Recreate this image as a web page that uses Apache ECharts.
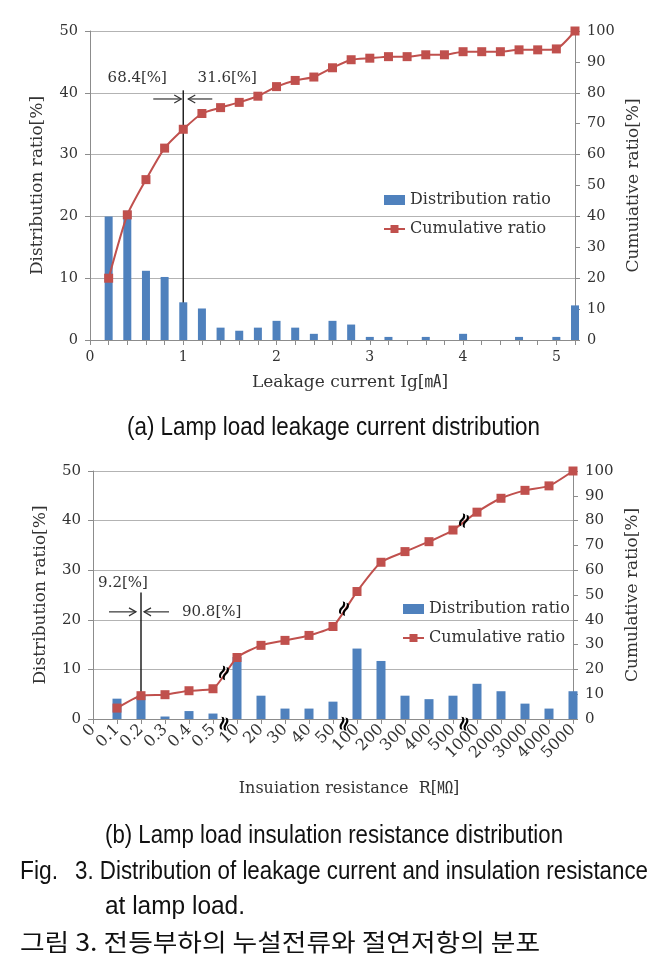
<!DOCTYPE html>
<html><head><meta charset="utf-8">
<script src="https://cdn.jsdelivr.net/npm/echarts@6/dist/echarts.min.js"></script>
<style>html,body{margin:0;padding:0;background:#fff}#c{width:664px;height:968px}</style>
</head><body><div id="c"></div>
<script>
// ---- data: chart (a) leakage current ----
const catsA = ['0','0.2','0.4','0.6','0.8','1','1.2','1.4','1.6','1.8','2','2.2','2.4','2.6','2.8','3','3.2','3.4','3.6','3.8','4','4.2','4.4','4.6','4.8','5','5.2'];
const distA = [null,20,20.9,11.2,10.2,6.1,5.1,2.0,1.5,2.0,3.1,2.0,1.0,3.1,2.5,0.5,0.5,0,0.5,0,1.0,0,0,0.5,0,0.5,5.6];
const cumA  = [null,20,40.5,51.9,62.1,68.2,73.3,75.2,76.9,78.9,82.0,84.0,85.1,88.1,90.7,91.2,91.7,91.7,92.3,92.3,93.3,93.3,93.3,93.9,93.9,94.2,100];
// ---- data: chart (b) insulation resistance ----
const catsB = ['0','0.1','0.2','0.3','0.4','0.5','10','20','30','40','50','100','200','300','400','500','1000','2000','3000','4000','5000'];
const distB = [null,4.1,4.7,0.5,1.6,1.1,12.5,4.7,2.1,2.1,3.5,14.2,11.7,4.7,4.0,4.7,7.1,5.6,3.1,2.1,5.6];
const cumB  = [null,4.4,9.4,9.8,11.4,12.2,24.8,29.7,31.7,33.7,37.3,51.4,63.2,67.5,71.5,76.2,83.4,89.0,92.2,94.0,100];
const breaksB = [5,10,15]; // axis breaks between category i and i+1
const splitA = {cat:5, left:'68.4[%]', right:'31.6[%]'};
const splitB = {cat:2, left:'9.2[%]', right:'90.8[%]'};

const SERIF = '"DejaVu Serif", "Noto Sans CJK KR", serif';
const TXT = '#333';
const AX = '#8c8c8c';
const BLUE = '#4F81BD', RED = '#C0504D';

const chart = echarts.init(document.getElementById('c'), null, {renderer:'canvas'});

function xCat(grid, data, labelOpt) {
  return {type:'category', gridIndex:grid, data:data, boundaryGap:false,
    axisLine:{lineStyle:{color:AX}}, axisTick:{show:true, interval:0, length:5, lineStyle:{color:AX}},
    axisLabel:Object.assign({fontFamily:SERIF, fontSize:14, color:TXT, margin:10}, labelOpt),
    splitLine:{show:false}};
}
function yVal(grid, max, pos, name, split, fs, gap) {
  return {type:'value', gridIndex:grid, min:0, max:max, interval:10, position:pos,
    axisLine:{show:true, lineStyle:{color:AX}}, axisTick:{show:true, length:5, lineStyle:{color:AX}},
    axisLabel:{fontFamily:SERIF, fontSize:fs, color:TXT, margin:12},
    splitLine:{show:split, lineStyle:{color:'#b3b3b3'}},
    name:name, nameLocation:'middle', nameRotate:90, nameGap:gap,
    nameTextStyle:{fontFamily:SERIF, fontSize:17, color:TXT}};
}
const yA0 = yVal(0,50,'left','Distribution ratio[%]',true,14.5,44);
const yA1 = yVal(0,100,'right','Cumuiative ratio[%]',false,14.5,38);
const yB0 = yVal(1,50,'left','Distribution ratio[%]',true,15,44);
const yB1 = yVal(1,100,'right','Cumulative ratio[%]',false,15,40);

const legendData = [{name:'Distribution ratio', icon:'rect'}, {name:'Cumulative ratio'}];
const legendCommon = {orient:'vertical', itemWidth:21, itemHeight:10, itemGap:13, padding:0,
  textStyle:{fontFamily:SERIF, fontSize:16, color:TXT}, data:legendData};

const option = {
  animation:false,
  backgroundColor:'#fff',
  grid:[{left:90, top:31, width:485, height:309},{left:93, top:471, width:480, height:248}],
  xAxis:[
    xCat(0, catsA, {interval:(i,v)=>Number.isInteger(Number(v))}),
    xCat(1, catsB, {interval:0, rotate:45, fontSize:16, margin:8})
  ],
  yAxis:[yA0,yA1,yB0,yB1],
  legend:[Object.assign({left:383, top:192}, legendCommon), Object.assign({left:402, top:601}, legendCommon)],
  series:[
    {name:'Distribution ratio', type:'bar', xAxisIndex:0, yAxisIndex:0, data:distA, barWidth:8, itemStyle:{color:BLUE}},
    {name:'Cumulative ratio', type:'line', xAxisIndex:0, yAxisIndex:1, data:cumA, smooth:0.2,
      symbol:'rect', symbolSize:9, itemStyle:{color:RED}, lineStyle:{color:RED, width:2}},
    {name:'Distribution ratio', type:'bar', xAxisIndex:1, yAxisIndex:2, data:distB, barWidth:9, itemStyle:{color:BLUE}},
    {name:'Cumulative ratio', type:'line', xAxisIndex:1, yAxisIndex:3, data:cumB, smooth:0.2,
      symbol:'rect', symbolSize:9, itemStyle:{color:RED}, lineStyle:{color:RED, width:2}}
  ]
};
chart.setOption(option);

// ---- annotations ----
const g = [];
const mctx = document.createElement('canvas').getContext('2d');
function fitText(str, font, left, right, cy) {
  mctx.font = font;
  const w = mctx.measureText(str).width;
  g.push({type:'text', x:left, y:cy, scaleX:(right-left)/w, scaleY:1,
    style:{text:str, font:font, fill:'#111', textAlign:'left', textVerticalAlign:'middle'}});
}
function cText(str, cx, cy, fs, align) {
  g.push({type:'text', x:cx, y:cy, style:{text:str, fontFamily:SERIF, fontSize:fs, fill:TXT,
    textAlign:align||'center', textVerticalAlign:'middle'}});
}
function line(x1,y1,x2,y2,w,c) {
  g.push({type:'line', shape:{x1,y1,x2,y2}, style:{stroke:c||'#222', lineWidth:w||1}});
}
function arrow(x1, x2, y) {
  const d = x2 > x1 ? 1 : -1;
  line(x1,y,x2,y,1.2,'#333');
  g.push({type:'polyline', shape:{points:[[x2-d*7,y-4],[x2,y],[x2-d*7,y+4]]}, style:{stroke:'#333', lineWidth:1.2, fill:null}});
}
const pA = (c,v)=>chart.convertToPixel({xAxisIndex:0, yAxisIndex:0},[c,v]);
const pB = (c,v)=>chart.convertToPixel({xAxisIndex:1, yAxisIndex:2},[c,v]);
const pBr = (c,v)=>chart.convertToPixel({xAxisIndex:1, yAxisIndex:3},[c,v]);

// chart (a) split marker
{
  const [lx, y0] = pA(splitA.cat, 0);
  const yt = pA(splitA.cat, 40.4)[1];
  const ya = pA(splitA.cat, 39)[1];
  const yl = pA(splitA.cat, 42.4)[1];
  line(lx, y0, lx, yt, 1.5, '#222');
  arrow(lx-30, lx-2, ya);
  arrow(lx+29, lx+5, ya);
  cText(splitA.left, lx-46, yl, 15);
  cText(splitA.right, lx+44, yl, 15);
}
// chart (b) split marker
{
  const [lx, y0] = pB(splitB.cat, 0);
  const yt = pB(splitB.cat, 25.5)[1];
  const ya = pB(splitB.cat, 21.6)[1];
  const yl = pB(splitB.cat, 27.4)[1];
  line(lx, y0, lx, yt, 1.5, '#222');
  arrow(lx-32, lx-5, ya);
  arrow(lx+28, lx+3, ya);
  cText(splitB.left, lx-18, yl, 15);
  cText(splitB.right, lx+41, ya, 15, 'left');
}
// axis-break marks (b)
breaksB.forEach(i => {
  const a = pBr(i, cumB[i]), b = pBr(i+1, cumB[i+1]);
  const base0 = pB(i, 0), base1 = pB(i+1, 0);
  const mk = (x,y,rot)=>g.push({type:'text', x:x, y:y, rotation:rot, z:100,
    style:{text:'≈', fontFamily:'"DejaVu Sans"', fontSize:20, fontWeight:'bold', fill:'#000', textAlign:'center', textVerticalAlign:'middle'}});
  mk((a[0]+b[0])/2, (a[1]+b[1])/2, 1.15);
  mk((base0[0]+base1[0])/2, base0[1]+5, 1.35);
});
// x axis names
cText('Leakage current Ig[㎃]', 350, 383, 17);
cText('Insuiation resistance  R[㏁]', 349, 789, 16);
// captions
const CAP = '25px "Liberation Sans", "Noto Sans CJK KR", sans-serif';
fitText('(a) Lamp load leakage current distribution', CAP, 127, 540, 428);
fitText('(b) Lamp load insulation resistance distribution', CAP, 105, 563, 836);
fitText('Fig.', CAP, 20, 58, 872);
fitText('3. Distribution of leakage current and insulation resistance', CAP, 75, 648, 872);
fitText('at lamp load.', CAP, 105, 245, 907);
fitText('그림 3. 전등부하의 누설전류와 절연저항의 분포', '24px "Noto Sans CJK KR", sans-serif', 20, 540, 942);

chart.setOption({graphic:g});
</script></body></html>
